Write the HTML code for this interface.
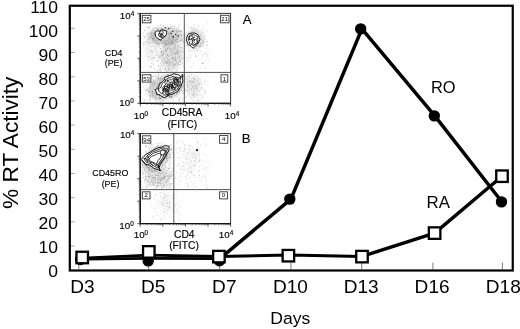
<!DOCTYPE html><html><head><meta charset="utf-8"><title>RT Activity</title>
<style>html,body{margin:0;padding:0;background:#fff}svg{display:block;will-change:transform;transform:translateZ(0)}text{font-family:"Liberation Sans",Arial,Helvetica,sans-serif;fill:#000}</style></head><body>
<svg width="520" height="329" viewBox="0 0 520 329">
<defs><filter id="bl" x="-30%" y="-30%" width="160%" height="160%"><feGaussianBlur stdDeviation="1.8"/></filter><filter id="b0" x="-10%" y="-10%" width="120%" height="120%"><feGaussianBlur stdDeviation="0.35"/></filter><clipPath id="cA"><rect x="141" y="14" width="89.5" height="88.5"/></clipPath><clipPath id="cB"><rect x="141" y="134.5" width="89.5" height="88"/></clipPath></defs>
<rect width="520" height="329" fill="#fff"/>
<g id="insetA">
<g clip-path="url(#cA)"><g filter="url(#bl)">
<ellipse cx="166" cy="36" rx="17" ry="9.5" fill="#000" opacity="0.15" transform="rotate(0 166 36)"/>
<ellipse cx="171" cy="56" rx="11" ry="15" fill="#000" opacity="0.11" transform="rotate(0 171 56)"/>
<ellipse cx="152" cy="46" rx="8" ry="16" fill="#000" opacity="0.05" transform="rotate(0 152 46)"/>
<ellipse cx="195" cy="39" rx="10" ry="10" fill="#000" opacity="0.12" transform="rotate(0 195 39)"/>
<ellipse cx="166" cy="87" rx="19" ry="12" fill="#000" opacity="0.17" transform="rotate(-20 166 87)"/>
<ellipse cx="193" cy="87" rx="7" ry="12" fill="#000" opacity="0.07" transform="rotate(0 193 87)"/>
</g></g>
<path d="M162.2 40.1h0.7M162.5 35.1h0.7M154.8 35.7h0.7M177.2 39.5h0.7M176.4 38.5h0.7M169.3 38.1h0.7M146.7 42.1h0.7M170.6 40.0h0.7M146.4 26.5h0.7M155.2 34.2h0.7M168.4 36.7h0.7M170.7 33.1h0.7M168.4 39.4h0.7M157.7 47.3h0.7M171.1 44.2h0.7M158.2 32.6h0.7M161.2 36.4h0.7M172.0 38.5h0.7M160.1 31.3h0.7M159.3 44.3h0.7M156.1 38.5h0.7M169.7 28.1h0.7M165.5 44.8h0.7M142.8 35.1h0.7M163.8 32.1h0.7M170.5 36.6h0.7M148.9 42.0h0.7M172.4 42.7h0.7M180.8 39.2h0.7M166.3 29.2h0.7M171.8 33.3h0.7M160.0 29.4h0.7M154.4 33.8h0.7M179.2 24.8h0.7M149.0 38.4h0.7M180.9 40.5h0.7M168.9 32.6h0.7M152.7 42.9h0.7M177.1 37.9h0.7M167.7 39.6h0.7M182.5 40.7h0.7M170.7 40.3h0.7M147.7 44.7h0.7M175.5 40.2h0.7M143.3 33.2h0.7M174.3 26.1h0.7M163.0 43.1h0.7M150.6 46.7h0.7M171.1 36.1h0.7M168.6 40.9h0.7M166.3 43.9h0.7M157.7 34.5h0.7M176.5 37.2h0.7M155.3 42.7h0.7M181.1 34.3h0.7M149.8 36.2h0.7M163.4 35.2h0.7M180.5 30.8h0.7M178.9 29.4h0.7M156.3 40.8h0.7M177.4 42.2h0.7M168.8 37.9h0.7M166.7 40.5h0.7M163.1 38.7h0.7M171.3 37.0h0.7M173.4 40.4h0.7M160.3 34.8h0.7M164.9 42.5h0.7M161.3 39.3h0.7M152.6 38.5h0.7M169.4 38.4h0.7M160.3 40.9h0.7M168.1 33.9h0.7M158.9 36.4h0.7M162.5 36.6h0.7M176.1 30.0h0.7M164.3 42.7h0.7M174.4 45.9h0.7M146.3 34.9h0.7M161.2 40.7h0.7M177.0 28.3h0.7M172.5 28.0h0.7M166.9 44.2h0.7M163.4 38.1h0.7M173.8 37.8h0.7M164.0 46.2h0.7M176.5 35.2h0.7M175.1 35.4h0.7M166.5 41.2h0.7M167.4 40.8h0.7M148.2 27.9h0.7M171.8 31.2h0.7M153.7 28.2h0.7M178.9 41.5h0.7M181.2 31.4h0.7M165.0 30.2h0.7M173.4 46.5h0.7M155.2 46.4h0.7M175.9 35.9h0.7M143.3 45.4h0.7M163.9 33.4h0.7M169.4 39.5h0.7M181.5 30.9h0.7M177.5 45.9h0.7M181.0 35.9h0.7M156.8 43.1h0.7M166.3 37.7h0.7M180.7 35.4h0.7M144.6 41.9h0.7M168.5 33.3h0.7M164.9 42.0h0.7M165.9 45.0h0.7M164.3 43.2h0.7M181.4 46.7h0.7M157.6 42.3h0.7M144.4 30.5h0.7M143.4 43.4h0.7M151.4 36.9h0.7M162.9 36.8h0.7M158.5 38.4h0.7M170.8 43.0h0.7M162.8 29.4h0.7M158.9 43.4h0.7M146.9 33.4h0.7M176.1 41.8h0.7M165.1 41.8h0.7M166.8 29.9h0.7M147.8 33.2h0.7M175.2 33.6h0.7M155.1 32.4h0.7M148.2 36.3h0.7M152.0 39.2h0.7M157.9 25.3h0.7M173.0 35.3h0.7M168.2 34.2h0.7M173.6 41.5h0.7M172.3 39.0h0.7M179.7 41.0h0.7M170.0 24.5h0.7M174.9 44.9h0.7M161.7 34.2h0.7M170.2 51.5h0.7M154.8 41.1h0.7M171.2 42.4h0.7M155.0 36.5h0.7M168.2 42.0h0.7M164.6 35.8h0.7M153.8 34.8h0.7M174.8 37.6h0.7M155.6 32.0h0.7M171.8 39.9h0.7M164.3 40.1h0.7M143.6 43.2h0.7M168.6 32.8h0.7M179.6 47.9h0.7M149.6 33.0h0.7M168.2 38.1h0.7M160.6 31.2h0.7M151.9 28.9h0.7M155.4 38.6h0.7M164.4 40.1h0.7M157.0 36.3h0.7M170.0 39.3h0.7M172.0 38.3h0.7M161.4 41.7h0.7M165.5 32.0h0.7M158.1 37.0h0.7M163.8 37.9h0.7M165.0 38.1h0.7M163.5 29.4h0.7M169.6 43.3h0.7M169.8 35.9h0.7M169.9 31.2h0.7M144.1 37.4h0.7M154.8 41.4h0.7M153.6 46.5h0.7M160.8 28.8h0.7M156.6 40.1h0.7M170.5 38.1h0.7M181.3 41.2h0.7M164.8 40.6h0.7M183.2 42.8h0.7M176.3 30.5h0.7M163.4 41.4h0.7M161.7 43.4h0.7M171.6 42.4h0.7M162.7 52.3h0.7M178.6 35.7h0.7M166.0 52.6h0.7M161.2 42.2h0.7M175.8 37.0h0.7M152.2 38.1h0.7M169.0 43.8h0.7M173.6 37.1h0.7M174.4 40.2h0.7M167.3 37.3h0.7M162.3 41.1h0.7M153.4 33.2h0.7M165.1 28.2h0.7M160.2 24.9h0.7M157.5 40.4h0.7M171.2 36.7h0.7M162.4 28.5h0.7M177.0 31.7h0.7M163.0 26.1h0.7M173.6 42.6h0.7M144.1 36.7h0.7M171.9 26.4h0.7M144.9 30.6h0.7M158.1 28.6h0.7M165.3 38.5h0.7M172.0 41.2h0.7M181.5 44.0h0.7M150.6 34.0h0.7M153.3 30.5h0.7M164.1 37.0h0.7M170.4 27.5h0.7M151.4 36.9h0.7M162.8 35.1h0.7M164.3 32.4h0.7M172.7 39.1h0.7M164.0 33.0h0.7M154.2 37.2h0.7M148.5 38.2h0.7M166.6 28.7h0.7M162.2 35.1h0.7M170.1 40.7h0.7M164.6 31.9h0.7M163.4 36.6h0.7M173.1 38.8h0.7M157.1 28.9h0.7M160.9 32.6h0.7M152.8 36.3h0.7M159.6 37.6h0.7M170.8 34.5h0.7M177.1 37.7h0.7" stroke="#888" stroke-width="0.7" opacity="0.8" fill="none"/>
<path d="M179.8 31.2h0.7M166.7 57.5h0.7M174.3 67.8h0.7M177.4 64.5h0.7M175.6 53.4h0.7M175.6 44.2h0.7M180.3 44.8h0.7M170.4 55.2h0.7M180.1 55.3h0.7M166.3 57.6h0.7M176.1 62.1h0.7M173.9 50.7h0.7M181.9 48.0h0.7M176.7 50.2h0.7M167.1 62.2h0.7M181.3 54.9h0.7M167.3 63.1h0.7M171.7 58.1h0.7M182.7 66.3h0.7M172.0 62.9h0.7M167.5 54.6h0.7M181.6 42.8h0.7M161.5 38.8h0.7M180.2 50.4h0.7M171.6 51.9h0.7M171.2 44.1h0.7M172.2 40.6h0.7M171.5 58.1h0.7M175.3 52.7h0.7M165.7 56.6h0.7M168.6 70.7h0.7M177.4 53.8h0.7M168.7 48.0h0.7M165.4 51.5h0.7M174.1 60.2h0.7M167.1 55.1h0.7M168.3 56.7h0.7M173.1 59.1h0.7M170.3 58.7h0.7M172.4 62.7h0.7M158.8 46.1h0.7M172.0 44.7h0.7M164.7 61.3h0.7M167.5 61.3h0.7M177.2 58.1h0.7M175.6 54.0h0.7M162.1 54.7h0.7M175.2 49.7h0.7M171.3 62.5h0.7M165.9 61.4h0.7M173.0 53.5h0.7M182.8 58.2h0.7M178.3 48.1h0.7M171.9 54.9h0.7M159.6 69.4h0.7M178.3 37.5h0.7M177.2 53.7h0.7M175.1 58.7h0.7M161.5 52.9h0.7M182.4 49.3h0.7M164.8 41.4h0.7M163.5 58.4h0.7M168.4 48.3h0.7M175.7 60.5h0.7M164.9 43.3h0.7M174.0 57.5h0.7M162.9 53.0h0.7M168.2 59.6h0.7M171.2 54.1h0.7M169.5 65.5h0.7M181.7 51.3h0.7M177.9 47.4h0.7M172.5 62.5h0.7M182.6 51.2h0.7M171.5 57.0h0.7M161.5 55.2h0.7M167.3 58.7h0.7M164.1 35.2h0.7M172.3 57.6h0.7M168.2 63.9h0.7M170.1 48.9h0.7M175.3 39.3h0.7M167.3 54.8h0.7M177.9 53.4h0.7M174.2 48.4h0.7M167.5 55.2h0.7M173.2 65.2h0.7M163.3 34.0h0.7M176.2 63.0h0.7M173.4 57.5h0.7M178.5 58.7h0.7M177.7 51.3h0.7M172.0 52.5h0.7M168.5 46.6h0.7M167.6 61.4h0.7M172.3 55.7h0.7M170.8 64.1h0.7M175.5 53.6h0.7M176.7 53.5h0.7M163.9 69.6h0.7M175.3 45.4h0.7M179.6 58.4h0.7M161.0 71.1h0.7M174.3 63.9h0.7M173.4 53.5h0.7M161.2 64.7h0.7M172.2 52.1h0.7M174.5 55.8h0.7M176.7 51.3h0.7M171.7 33.6h0.7M169.0 61.8h0.7M181.4 51.4h0.7M171.2 70.8h0.7M169.7 62.3h0.7M180.6 47.9h0.7M173.5 54.2h0.7M172.8 66.3h0.7M168.0 60.0h0.7M164.6 60.0h0.7M176.0 52.2h0.7M175.7 39.5h0.7M177.3 39.6h0.7M167.1 49.4h0.7M169.2 63.6h0.7M172.6 51.0h0.7M175.8 70.8h0.7M172.0 58.7h0.7M180.7 57.7h0.7M171.7 59.2h0.7M178.8 61.7h0.7M170.1 44.5h0.7M172.7 65.3h0.7M164.4 44.7h0.7M171.8 35.6h0.7M170.2 50.6h0.7M175.2 48.0h0.7M165.8 51.1h0.7M171.7 48.4h0.7M172.1 62.5h0.7M166.5 50.8h0.7M166.9 54.7h0.7M175.7 41.4h0.7M175.2 54.7h0.7M159.2 57.9h0.7M180.4 36.3h0.7M177.7 57.1h0.7M175.3 59.4h0.7M181.1 52.8h0.7M178.1 50.9h0.7M177.1 46.9h0.7M175.1 53.4h0.7M164.0 47.1h0.7M173.4 64.4h0.7M175.0 60.2h0.7M171.7 68.5h0.7M169.3 49.5h0.7M178.2 55.6h0.7M170.1 49.2h0.7M170.2 61.2h0.7M174.5 42.9h0.7M175.0 56.8h0.7M165.0 62.7h0.7M170.0 51.6h0.7M177.6 68.2h0.7M167.2 59.4h0.7M168.5 66.9h0.7M167.5 63.1h0.7M169.0 60.0h0.7M171.3 48.3h0.7M160.5 63.5h0.7M159.9 66.5h0.7M168.0 56.4h0.7M180.8 56.2h0.7M162.3 38.0h0.7M180.3 62.4h0.7M166.3 63.6h0.7M175.5 61.5h0.7M156.2 52.0h0.7M178.3 62.3h0.7M178.2 30.4h0.7M173.2 59.9h0.7M169.7 55.4h0.7M178.2 50.6h0.7M180.0 47.1h0.7M173.9 49.7h0.7M173.1 48.1h0.7M160.8 65.9h0.7M174.1 49.4h0.7M173.4 64.9h0.7M165.2 53.9h0.7M175.8 60.3h0.7M169.7 33.9h0.7" stroke="#999" stroke-width="0.7" opacity="0.8" fill="none"/>
<path d="M202.5 43.3h0.7M195.1 39.1h0.7M196.6 38.0h0.7M188.9 35.8h0.7M191.4 36.7h0.7M188.0 45.5h0.7M187.1 45.6h0.7M188.9 43.5h0.7M203.2 42.4h0.7M190.6 41.3h0.7M195.9 28.9h0.7M191.4 42.1h0.7M192.2 41.6h0.7M199.4 46.4h0.7M200.4 45.1h0.7M193.3 40.9h0.7M193.4 38.8h0.7M193.9 28.9h0.7M193.0 40.8h0.7M189.2 40.8h0.7M198.1 39.8h0.7M207.5 22.8h0.7M193.8 28.2h0.7M200.9 59.6h0.7M198.1 38.9h0.7M198.3 25.3h0.7M200.1 43.6h0.7M195.1 36.9h0.7M198.8 37.6h0.7M196.3 37.4h0.7M196.2 46.3h0.7M189.7 40.8h0.7M198.7 42.0h0.7M202.5 54.9h0.7M189.5 27.6h0.7M200.1 51.7h0.7M200.5 46.7h0.7M191.3 36.0h0.7M200.3 34.6h0.7M210.0 54.5h0.7M190.9 35.9h0.7M196.4 35.8h0.7M202.9 40.5h0.7M188.5 50.2h0.7M191.5 42.5h0.7M194.9 38.8h0.7M196.9 36.2h0.7M187.4 35.7h0.7M194.9 41.4h0.7M198.3 41.8h0.7M190.2 36.0h0.7M197.9 44.7h0.7M194.3 39.8h0.7M200.6 41.1h0.7M199.4 45.1h0.7M196.3 50.1h0.7M191.6 38.5h0.7M190.2 35.4h0.7M204.3 53.3h0.7M195.1 45.0h0.7M202.1 46.7h0.7M202.2 32.2h0.7M191.2 44.2h0.7M203.6 41.7h0.7M189.8 38.5h0.7M191.0 35.0h0.7M204.0 36.6h0.7M195.1 56.1h0.7M202.1 43.4h0.7M191.3 43.9h0.7M204.7 45.4h0.7M202.6 41.7h0.7M198.1 39.6h0.7M197.6 50.1h0.7M186.4 40.6h0.7M196.4 37.0h0.7M193.2 46.5h0.7M207.0 45.4h0.7M197.0 30.1h0.7M206.6 41.5h0.7M194.8 33.2h0.7M194.7 33.3h0.7M195.4 44.3h0.7M195.2 43.0h0.7M189.9 51.0h0.7M191.1 28.3h0.7M193.9 35.7h0.7M188.9 38.5h0.7M196.7 32.7h0.7M194.2 51.0h0.7M199.1 39.9h0.7M195.8 40.2h0.7M194.7 46.1h0.7M194.4 24.2h0.7M194.9 34.8h0.7M198.9 36.7h0.7M195.9 56.2h0.7M188.7 33.1h0.7M186.5 24.2h0.7M191.2 27.9h0.7M186.1 45.3h0.7M190.3 38.4h0.7M197.0 50.5h0.7M206.6 48.2h0.7" stroke="#999" stroke-width="0.7" opacity="0.8" fill="none"/>
<path d="M170.1 86.5h0.7M191.8 86.8h0.7M165.8 90.4h0.7M171.3 85.0h0.7M158.9 79.8h0.7M157.9 78.5h0.7M183.0 83.7h0.7M158.5 100.6h0.7M190.6 82.6h0.7M175.0 86.2h0.7M170.7 86.2h0.7M150.5 82.8h0.7M160.2 84.7h0.7M172.8 86.0h0.7M166.5 81.5h0.7M165.7 94.2h0.7M176.7 83.1h0.7M168.7 97.5h0.7M163.2 93.0h0.7M180.0 78.9h0.7M174.1 74.9h0.7M179.7 82.6h0.7M152.3 97.7h0.7M161.6 98.4h0.7M160.0 88.1h0.7M170.2 82.5h0.7M169.4 81.2h0.7M175.4 82.9h0.7M180.9 80.8h0.7M148.6 94.9h0.7M176.1 90.7h0.7M160.3 101.0h0.7M172.8 102.2h0.7M168.2 91.1h0.7M160.9 80.5h0.7M182.6 86.7h0.7M187.3 84.3h0.7M157.1 78.0h0.7M159.0 84.7h0.7M160.6 93.6h0.7M170.9 82.7h0.7M169.5 84.3h0.7M172.4 89.9h0.7M176.7 77.1h0.7M155.2 102.2h0.7M172.3 92.6h0.7M148.9 91.6h0.7M164.4 76.6h0.7M164.3 93.1h0.7M184.3 91.2h0.7M154.6 81.0h0.7M176.3 89.6h0.7M166.6 76.7h0.7M178.8 87.5h0.7M172.8 80.3h0.7M173.5 89.7h0.7M156.8 76.7h0.7M172.9 87.6h0.7M170.6 91.7h0.7M161.3 88.2h0.7M166.2 91.1h0.7M185.0 76.9h0.7M194.9 86.3h0.7M178.3 86.1h0.7M187.1 76.6h0.7M163.9 79.7h0.7M176.9 92.5h0.7M175.0 86.2h0.7M166.2 88.0h0.7M155.1 99.4h0.7M160.5 80.8h0.7M157.4 84.2h0.7M180.3 88.8h0.7M155.5 98.3h0.7M176.2 78.1h0.7M149.5 88.1h0.7M161.9 91.2h0.7M158.5 74.6h0.7M166.4 75.0h0.7M174.7 74.0h0.7M158.0 83.7h0.7M165.5 96.9h0.7M179.1 85.9h0.7M167.3 74.5h0.7M160.7 84.9h0.7M158.6 93.9h0.7M157.9 84.9h0.7M150.8 77.6h0.7M178.2 91.8h0.7M167.3 78.9h0.7M182.3 82.2h0.7M182.3 91.2h0.7M179.3 77.9h0.7M181.7 86.1h0.7M149.9 90.6h0.7M152.0 91.9h0.7M171.5 76.4h0.7M176.2 93.7h0.7M156.3 99.0h0.7M196.4 89.2h0.7M166.4 88.7h0.7M169.0 93.2h0.7M179.7 81.7h0.7M155.0 97.1h0.7M164.5 92.3h0.7M175.3 95.2h0.7M179.3 77.8h0.7M176.7 95.7h0.7M163.2 91.3h0.7M184.6 88.5h0.7M170.1 75.1h0.7M154.7 93.5h0.7M179.2 100.6h0.7M161.6 97.4h0.7M159.4 90.9h0.7M162.1 87.3h0.7M171.0 78.6h0.7M171.4 79.7h0.7M163.4 92.0h0.7M162.4 90.5h0.7M185.8 78.7h0.7M168.4 91.4h0.7M166.9 94.7h0.7M155.5 96.0h0.7M160.2 83.2h0.7M189.2 82.0h0.7M185.2 89.8h0.7M166.4 85.7h0.7M195.6 75.7h0.7M161.6 83.9h0.7M173.8 86.0h0.7M174.7 96.3h0.7M165.7 90.6h0.7M184.5 93.0h0.7M150.0 85.3h0.7M151.5 78.9h0.7M177.5 93.0h0.7M149.3 91.5h0.7M148.9 100.0h0.7M159.1 87.7h0.7M170.1 89.3h0.7M164.2 87.7h0.7M162.3 89.3h0.7M155.2 91.9h0.7M145.3 91.9h0.7M189.4 77.6h0.7M154.8 93.5h0.7M152.8 79.9h0.7M161.9 94.2h0.7M172.0 83.6h0.7M154.8 83.4h0.7M183.6 81.3h0.7M151.7 76.8h0.7M155.1 90.9h0.7M169.9 84.0h0.7M161.2 78.4h0.7M161.0 101.8h0.7M161.9 95.0h0.7M148.5 92.1h0.7M173.7 91.5h0.7M157.2 95.1h0.7M170.3 79.4h0.7M170.8 78.0h0.7M159.2 89.6h0.7M153.0 81.2h0.7M165.4 92.9h0.7M167.0 96.1h0.7M151.6 83.0h0.7M186.2 81.3h0.7M176.2 76.3h0.7M177.6 83.9h0.7M175.2 83.1h0.7M179.6 76.2h0.7M153.3 81.0h0.7M178.8 75.8h0.7M153.9 84.8h0.7M159.6 79.9h0.7M163.1 83.3h0.7M159.3 82.4h0.7M167.2 82.9h0.7M169.9 87.1h0.7M159.9 83.4h0.7M159.3 87.4h0.7M167.0 94.0h0.7M165.7 94.3h0.7M146.9 81.2h0.7M182.7 83.1h0.7M173.7 84.5h0.7M170.0 75.9h0.7M177.0 78.1h0.7M179.1 82.0h0.7M142.7 86.9h0.7M180.1 79.8h0.7M164.3 89.4h0.7M161.8 84.5h0.7M169.5 86.5h0.7M184.9 79.2h0.7M193.7 88.8h0.7M189.9 84.8h0.7M169.8 86.3h0.7M164.4 82.0h0.7M165.5 82.2h0.7M187.6 81.8h0.7M157.8 75.7h0.7M166.3 83.6h0.7M152.9 83.7h0.7M144.7 100.2h0.7M167.3 85.2h0.7M184.3 80.1h0.7M168.8 82.8h0.7M165.4 98.5h0.7M183.7 92.4h0.7M164.2 87.8h0.7M160.9 96.4h0.7M154.1 96.1h0.7M184.0 90.0h0.7M160.6 97.4h0.7M158.0 84.5h0.7M156.5 99.6h0.7M184.6 74.5h0.7M158.7 87.4h0.7M198.5 80.8h0.7M157.1 77.0h0.7M163.8 96.8h0.7M187.9 75.6h0.7M159.0 85.9h0.7M149.6 100.7h0.7M158.9 97.9h0.7M145.7 85.8h0.7M169.1 79.7h0.7M176.7 82.4h0.7M156.7 95.5h0.7M189.5 80.7h0.7M159.1 87.1h0.7M152.7 77.0h0.7M166.3 89.4h0.7M147.8 90.1h0.7M178.0 93.8h0.7M174.5 80.9h0.7M152.4 85.5h0.7M161.1 90.1h0.7M172.0 97.0h0.7M168.3 77.7h0.7M187.7 84.9h0.7M167.2 80.9h0.7M144.5 88.2h0.7M175.9 76.6h0.7M153.9 93.4h0.7M172.3 88.8h0.7M179.1 92.0h0.7M161.4 96.2h0.7M159.0 95.1h0.7M170.6 86.7h0.7M178.6 81.4h0.7M182.7 86.4h0.7M168.0 81.7h0.7M158.2 86.1h0.7M165.7 86.8h0.7M202.7 76.2h0.7M174.2 76.9h0.7M159.3 87.3h0.7M167.3 78.4h0.7M184.3 74.8h0.7M168.7 87.8h0.7M171.8 89.0h0.7M171.5 85.7h0.7M145.1 90.2h0.7M143.8 101.0h0.7M170.9 83.3h0.7M157.3 86.1h0.7M193.1 88.5h0.7M170.9 94.6h0.7M145.2 80.9h0.7M160.3 82.6h0.7M162.3 89.8h0.7M169.3 87.5h0.7M170.2 92.2h0.7M169.1 83.5h0.7M167.8 74.5h0.7M142.3 79.3h0.7M174.3 84.8h0.7M161.8 82.9h0.7M149.9 86.7h0.7M177.2 86.2h0.7M169.2 89.4h0.7M161.5 89.3h0.7M170.0 89.4h0.7M166.8 85.4h0.7M164.8 82.5h0.7M194.1 78.9h0.7M179.0 98.8h0.7M178.0 88.2h0.7M192.4 85.7h0.7M173.3 74.8h0.7M159.1 91.8h0.7M170.8 77.1h0.7M162.7 85.2h0.7M169.6 87.9h0.7M161.5 79.4h0.7M186.1 90.5h0.7M169.6 93.1h0.7M174.7 88.2h0.7M171.2 78.8h0.7M177.1 89.8h0.7M196.1 88.0h0.7" stroke="#888" stroke-width="0.7" opacity="0.8" fill="none"/>
<path d="M205.9 92.9h0.7M192.0 82.2h0.7M189.1 87.9h0.7M193.8 92.4h0.7M207.7 86.8h0.7M198.1 90.8h0.7M195.6 85.3h0.7M193.3 80.4h0.7M195.1 86.8h0.7M195.9 80.2h0.7M194.2 87.4h0.7M197.6 78.5h0.7M196.5 94.9h0.7M197.6 84.1h0.7M191.1 85.1h0.7M198.4 99.4h0.7M193.1 81.9h0.7M196.3 88.6h0.7M188.6 81.1h0.7M193.4 92.4h0.7M186.8 78.9h0.7M197.0 77.2h0.7M194.7 89.8h0.7M193.3 78.9h0.7M193.6 84.3h0.7M196.0 80.3h0.7M200.5 73.6h0.7M192.9 87.1h0.7M199.8 82.1h0.7M197.3 82.5h0.7M198.4 100.9h0.7M191.6 90.5h0.7M188.4 94.8h0.7M201.3 87.3h0.7M187.2 90.2h0.7M200.9 95.7h0.7M189.9 98.4h0.7M186.6 96.1h0.7M205.3 93.1h0.7M200.7 84.3h0.7M186.6 86.2h0.7M192.8 86.6h0.7M198.2 85.8h0.7M195.2 90.4h0.7M194.0 101.7h0.7M196.7 87.7h0.7M192.8 82.0h0.7M202.1 88.2h0.7M187.5 82.5h0.7M193.2 83.4h0.7M200.5 77.7h0.7M197.0 88.1h0.7M186.9 87.4h0.7M193.4 91.0h0.7M191.3 89.4h0.7M198.7 95.3h0.7M193.9 82.2h0.7M189.2 92.4h0.7M197.9 78.7h0.7M194.9 79.8h0.7M194.3 94.2h0.7M200.8 90.2h0.7M207.5 82.1h0.7M194.0 95.4h0.7M190.2 81.4h0.7M191.8 86.4h0.7M187.5 90.9h0.7M197.3 87.6h0.7M204.2 84.4h0.7M201.8 82.6h0.7M195.2 85.6h0.7M191.0 82.1h0.7M191.9 81.2h0.7M190.7 82.8h0.7M187.7 85.9h0.7M198.7 85.0h0.7M191.0 97.9h0.7M199.9 94.4h0.7M200.9 84.4h0.7M193.2 95.9h0.7" stroke="#aaa" stroke-width="0.7" opacity="0.8" fill="none"/>
<path d="M166.2 32.7h0.8M151.5 31.9h0.8M157.6 44.3h0.8M157.4 37.0h0.8M150.2 50.6h0.8M177.2 53.4h0.8M167.5 55.3h0.8M154.2 58.0h0.8M163.6 50.7h0.8M169.1 47.1h0.8M158.2 36.9h0.8M155.0 49.1h0.8M160.8 52.4h0.8M147.4 41.9h0.8M178.0 36.7h0.8M167.0 48.1h0.8M157.3 70.4h0.8M157.6 60.7h0.8M152.7 29.0h0.8M178.4 45.8h0.8M149.2 43.5h0.8M162.8 59.1h0.8M150.9 36.1h0.8M181.5 59.2h0.8M152.6 41.2h0.8M159.7 56.4h0.8M169.2 64.2h0.8M176.6 49.3h0.8M173.6 59.4h0.8M174.3 47.4h0.8M175.3 57.9h0.8M179.9 31.7h0.8M178.3 26.2h0.8M174.6 52.4h0.8M164.9 69.3h0.8M167.6 44.8h0.8M175.2 65.3h0.8M168.9 43.1h0.8M163.3 46.6h0.8M173.0 39.2h0.8M161.1 51.0h0.8M160.8 40.5h0.8M175.3 64.2h0.8M165.0 46.0h0.8M153.6 39.7h0.8M152.2 51.9h0.8M167.9 30.0h0.8M180.1 40.6h0.8M177.4 63.7h0.8M181.5 35.2h0.8M162.4 67.0h0.8M147.4 28.1h0.8M167.3 48.4h0.8M180.1 60.8h0.8M166.4 70.9h0.8M165.6 49.3h0.8M171.7 43.5h0.8M159.9 52.8h0.8M159.6 68.7h0.8M171.4 49.6h0.8M150.6 42.8h0.8M161.4 51.3h0.8M167.7 65.6h0.8M181.7 47.9h0.8M162.8 54.1h0.8M182.9 41.4h0.8M166.1 62.7h0.8M153.1 40.3h0.8M182.2 63.2h0.8M165.5 31.0h0.8M179.2 57.0h0.8M176.5 70.6h0.8M179.0 44.9h0.8M152.6 39.0h0.8M165.4 48.7h0.8M153.8 34.2h0.8M169.7 53.1h0.8M159.7 70.7h0.8M169.9 27.9h0.8M161.8 61.4h0.8M158.0 57.1h0.8M147.1 39.7h0.8M177.3 52.4h0.8M171.1 34.8h0.8M164.9 50.9h0.8M156.6 55.1h0.8M166.1 70.9h0.8M167.7 44.5h0.8M151.4 33.1h0.8M174.3 30.8h0.8M150.6 33.7h0.8M165.8 63.0h0.8M169.1 62.3h0.8M149.2 26.6h0.8M174.7 40.5h0.8M172.8 41.9h0.8M153.1 38.0h0.8M150.6 66.7h0.8M168.0 41.7h0.8M163.2 43.4h0.8M149.0 66.1h0.8M168.0 69.2h0.8M162.8 53.9h0.8M156.0 28.0h0.8M180.5 64.5h0.8M158.3 66.4h0.8M176.4 39.7h0.8M168.7 69.2h0.8M164.8 68.7h0.8M155.7 43.5h0.8M172.9 36.0h0.8M158.1 65.4h0.8M164.4 61.7h0.8M155.8 33.8h0.8M159.9 34.4h0.8M182.0 39.1h0.8M167.2 31.2h0.8M166.2 43.4h0.8M161.5 28.9h0.8M151.4 63.2h0.8M159.6 37.0h0.8M153.9 38.8h0.8M155.5 27.6h0.8M170.9 41.4h0.8M152.6 57.8h0.8M150.3 38.1h0.8M177.1 31.8h0.8M163.0 63.6h0.8M176.0 33.2h0.8M159.7 58.5h0.8M160.6 69.1h0.8M154.5 68.8h0.8M165.2 36.2h0.8M163.3 31.9h0.8M172.4 37.7h0.8M179.4 52.4h0.8M160.2 37.1h0.8M168.9 35.6h0.8M178.4 31.5h0.8M165.5 50.4h0.8M156.7 60.7h0.8M160.9 55.6h0.8M167.4 40.0h0.8M161.0 29.9h0.8M153.4 64.3h0.8M158.6 55.8h0.8M150.9 51.3h0.8M160.0 48.5h0.8M157.7 29.0h0.8M158.2 36.2h0.8M151.5 58.3h0.8M157.2 44.2h0.8M179.7 60.9h0.8M178.8 64.8h0.8M151.8 38.4h0.8M148.1 56.6h0.8M170.9 41.8h0.8M161.9 55.7h0.8M172.2 37.2h0.8M177.5 41.8h0.8M169.6 34.2h0.8M151.1 67.1h0.8M173.4 58.1h0.8M148.5 27.8h0.8M152.8 34.9h0.8M157.9 43.1h0.8M148.4 40.0h0.8M170.0 34.1h0.8M177.2 51.7h0.8M172.8 37.5h0.8" stroke="#777" stroke-width="0.8" opacity="0.7" fill="none"/>
<path d="M195.6 56.8h0.8M193.7 26.0h0.8M204.4 60.9h0.8M192.3 27.9h0.8M204.8 53.3h0.8M187.0 37.0h0.8M188.4 61.6h0.8M190.6 67.2h0.8M202.5 29.9h0.8M201.3 43.7h0.8M202.4 63.3h0.8M192.2 30.0h0.8M206.8 45.1h0.8M206.5 57.1h0.8M202.2 63.3h0.8M199.8 46.4h0.8M187.2 57.4h0.8M195.4 49.0h0.8M206.4 31.7h0.8M202.8 28.0h0.8M201.5 62.3h0.8M191.7 50.6h0.8M207.3 54.7h0.8M198.0 37.2h0.8M187.3 42.1h0.8M195.1 35.1h0.8M192.8 32.1h0.8M201.6 56.2h0.8M191.2 36.9h0.8M197.3 46.0h0.8M206.6 41.8h0.8M192.6 65.8h0.8M189.1 51.3h0.8M193.3 62.7h0.8M198.1 60.2h0.8M189.7 56.0h0.8M199.2 46.8h0.8M202.9 63.4h0.8M188.5 39.0h0.8M193.9 35.3h0.8M187.3 38.6h0.8M190.3 57.6h0.8M195.9 31.1h0.8M193.1 47.1h0.8M194.0 33.6h0.8M187.6 26.5h0.8M207.8 59.8h0.8M187.8 58.3h0.8M207.6 51.4h0.8M188.4 48.0h0.8M195.6 34.5h0.8M197.9 26.4h0.8M206.2 55.0h0.8M199.8 68.1h0.8M200.4 37.3h0.8M191.4 32.2h0.8M186.6 60.8h0.8M204.5 39.3h0.8M190.1 54.7h0.8M204.6 67.7h0.8" stroke="#888" stroke-width="0.8" opacity="0.6" fill="none"/>
<path d="M152.2 95.2h0.8M176.7 94.0h0.8M158.1 79.0h0.8M176.5 82.6h0.8M159.6 88.9h0.8M159.7 96.4h0.8M154.9 75.1h0.8M167.0 91.0h0.8M176.3 93.1h0.8M179.5 99.5h0.8M164.3 87.5h0.8M151.8 82.1h0.8M167.5 76.2h0.8M171.5 78.4h0.8M162.4 100.2h0.8M149.3 75.1h0.8M162.3 79.2h0.8M172.7 74.1h0.8M177.1 97.1h0.8M175.1 85.5h0.8M156.5 91.9h0.8M165.0 85.4h0.8M158.5 85.8h0.8M170.6 96.3h0.8M179.4 78.4h0.8M156.9 86.0h0.8M166.8 83.4h0.8M153.2 76.3h0.8M158.0 86.4h0.8M181.9 98.5h0.8M178.0 100.3h0.8M181.6 90.7h0.8M176.0 75.6h0.8M171.0 90.4h0.8M157.0 89.4h0.8M181.3 87.0h0.8M170.0 82.1h0.8M158.7 97.9h0.8M147.0 79.1h0.8M171.1 86.1h0.8M149.2 91.8h0.8M159.8 89.7h0.8M161.4 88.3h0.8M166.9 84.7h0.8M150.2 78.9h0.8M178.9 88.8h0.8M150.2 97.3h0.8M155.4 76.6h0.8M165.6 80.8h0.8M164.1 89.0h0.8M154.4 89.5h0.8M150.2 87.9h0.8M167.8 76.2h0.8M161.1 76.0h0.8M162.3 97.3h0.8M166.4 93.3h0.8M174.0 77.1h0.8M182.7 93.5h0.8M149.8 96.4h0.8M160.5 78.6h0.8M181.5 89.2h0.8M174.7 77.7h0.8M174.7 75.6h0.8M154.8 84.1h0.8M146.6 90.0h0.8M153.9 82.1h0.8M172.2 85.5h0.8M178.9 90.8h0.8M178.3 89.2h0.8M179.9 97.5h0.8M152.2 94.1h0.8M158.6 94.6h0.8M171.2 96.3h0.8M150.5 84.1h0.8M173.3 99.6h0.8M172.7 75.2h0.8M168.3 76.7h0.8M166.3 95.7h0.8M150.2 99.0h0.8M171.0 80.9h0.8M153.1 86.1h0.8M177.0 89.7h0.8M150.2 74.6h0.8M150.1 95.6h0.8M152.9 89.0h0.8M156.7 92.6h0.8M160.1 77.9h0.8M178.4 88.5h0.8M171.5 95.8h0.8M181.1 74.4h0.8M158.7 78.1h0.8M164.6 97.6h0.8M175.6 75.0h0.8M152.7 96.1h0.8M171.1 84.6h0.8M163.6 78.3h0.8M177.3 84.6h0.8M178.3 90.5h0.8M148.8 82.9h0.8M154.0 98.1h0.8M167.8 75.2h0.8M152.3 83.7h0.8M163.3 89.6h0.8M160.4 83.5h0.8M146.2 89.6h0.8M158.3 74.6h0.8M163.0 100.6h0.8M147.7 77.9h0.8M170.8 81.4h0.8M156.1 87.5h0.8" stroke="#777" stroke-width="0.8" opacity="0.7" fill="none"/>
<path d="M191.2 89.4h0.8M196.6 99.8h0.8M205.8 74.9h0.8M197.2 94.8h0.8M203.4 94.9h0.8M198.7 91.1h0.8M193.3 81.6h0.8M201.9 97.6h0.8M204.8 92.4h0.8M192.1 94.6h0.8M200.8 87.7h0.8M198.7 83.5h0.8M197.0 85.0h0.8M187.2 83.1h0.8M192.5 100.7h0.8M195.6 83.9h0.8M190.9 80.3h0.8M193.0 77.7h0.8M186.1 97.5h0.8M195.1 86.0h0.8M197.4 82.2h0.8M189.4 75.8h0.8M192.0 82.3h0.8M200.5 88.9h0.8M204.7 83.2h0.8M204.4 89.8h0.8M187.6 78.8h0.8M197.6 100.7h0.8M193.1 94.9h0.8M194.6 97.4h0.8M187.4 87.1h0.8M204.0 81.4h0.8M191.2 74.6h0.8M189.3 81.2h0.8M200.1 79.9h0.8M194.0 79.4h0.8M198.1 97.3h0.8M199.0 79.3h0.8M200.7 100.0h0.8M198.0 76.1h0.8M202.2 97.6h0.8M192.8 77.7h0.8M189.8 88.5h0.8M203.5 91.3h0.8M204.5 79.7h0.8M192.5 94.2h0.8M199.0 84.9h0.8M199.6 83.1h0.8M187.1 85.2h0.8M186.9 90.9h0.8" stroke="#888" stroke-width="0.8" opacity="0.6" fill="none"/>
<rect x="140.3" y="13.4" width="90.29999999999998" height="89.89999999999999" fill="none" stroke="#333" stroke-width="1"/>
<path d="M140.3 13.4V103.3H230.6" stroke="#111" stroke-width="1.3" fill="none"/>
<path d="M184.3 13.4V103.3M140.3 72.4H230.6" stroke="#333" stroke-width="0.85" fill="none"/>
<path d="M140.3 13.4h-3M140.3 103.3v3M140.3 35.9h-3M162.9 103.3v3M140.3 58.3h-3M185.4 103.3v3M140.3 80.8h-3M208.0 103.3v3M140.3 103.3h-3M230.6 103.3v3" stroke="#333" stroke-width="0.8" fill="none"/>
<path d="M140.3 96.6h-1.6M147.1 103.3v1.6M140.3 92.5h-1.6M151.1 103.3v1.6M140.3 89.8h-1.6M153.8 103.3v1.6M140.3 87.6h-1.6M156.1 103.3v1.6M140.3 85.8h-1.6M157.9 103.3v1.6M140.3 84.2h-1.6M159.5 103.3v1.6M140.3 83.1h-1.6M160.6 103.3v1.6M140.3 81.9h-1.6M161.7 103.3v1.6M140.3 74.1h-1.6M169.6 103.3v1.6M140.3 70.0h-1.6M173.7 103.3v1.6M140.3 67.3h-1.6M176.4 103.3v1.6M140.3 65.1h-1.6M178.7 103.3v1.6M140.3 63.3h-1.6M180.5 103.3v1.6M140.3 61.7h-1.6M182.1 103.3v1.6M140.3 60.6h-1.6M183.2 103.3v1.6M140.3 59.5h-1.6M184.3 103.3v1.6M140.3 51.6h-1.6M192.2 103.3v1.6M140.3 47.6h-1.6M196.3 103.3v1.6M140.3 44.9h-1.6M199.0 103.3v1.6M140.3 42.6h-1.6M201.3 103.3v1.6M140.3 40.8h-1.6M203.1 103.3v1.6M140.3 39.2h-1.6M204.6 103.3v1.6M140.3 38.1h-1.6M205.8 103.3v1.6M140.3 37.0h-1.6M206.9 103.3v1.6M140.3 29.1h-1.6M214.8 103.3v1.6M140.3 25.1h-1.6M218.9 103.3v1.6M140.3 22.4h-1.6M221.6 103.3v1.6M140.3 20.1h-1.6M223.8 103.3v1.6M140.3 18.3h-1.6M225.6 103.3v1.6M140.3 16.8h-1.6M227.2 103.3v1.6M140.3 15.6h-1.6M228.3 103.3v1.6M140.3 14.5h-1.6M229.5 103.3v1.6" stroke="#444" stroke-width="0.6" fill="none"/>
<path d="M155.1 32.2L156.4 31.2L157.1 30.6L158.3 31.2L159.2 31.1L160.8 30.6L161.9 29.6L163.4 30.2L165.0 30.5L166.3 31.1L166.6 32.5L166.6 34.2L165.5 36.0L164.0 36.7L162.9 37.7L161.5 38.8L160.3 40.3L159.0 39.2L157.9 38.7L156.6 37.2L155.6 36.2L155.1 33.9Z" fill="#fff" stroke="#111" stroke-width="1.0" stroke-linejoin="round"/>
<path d="M160.1 36.4L160.3 35.1L161.8 34.8L163.2 35.2L163.3 36.5L162.4 37.3L161.1 37.8ZM160.9 33.0L162.1 34.1L161.8 36.6L159.2 36.5L158.4 34.1ZM162.7 33.9L161.0 34.9L159.2 33.7L159.5 31.8L161.5 30.7L163.3 31.8Z" fill="none" stroke="#111" stroke-width="0.8" stroke-linejoin="round"/>
<path d="M168 28.5h1.2M172.1 31.4h1.3M172.7 36.6h1.3M175 34.5h1.2M177.5 35.7h1.2M164.8 27.6h1M170.6 33.2h1" stroke="#222" stroke-width="1.2"/>
<path d="M187.3 36.2L188.2 34.4L190.1 33.4L192.3 33.0L194.6 33.1L196.5 33.9L198.5 35.2L199.2 37.6L200.0 39.3L199.1 41.2L198.2 43.1L196.8 44.7L195.0 46.5L194.2 47.5L193.1 48.3L192.3 47.3L191.6 46.8L190.0 45.3L188.3 44.7L187.4 42.7L186.6 40.7L186.6 38.5Z" fill="#fff" stroke="#111" stroke-width="1.0" stroke-linejoin="round"/>
<path d="M189.0 37.0L189.8 35.6L190.5 35.0L192.6 34.9L194.2 34.8L195.6 35.7L197.5 36.3L197.7 37.9L197.9 39.3L198.0 40.6L197.5 42.5L196.3 43.3L194.4 44.7L194.3 45.3L193.1 45.9L192.9 45.2L192.5 44.7L190.6 44.0L189.5 43.5L189.3 41.7L188.4 40.3L188.8 38.8Z" fill="none" stroke="#111" stroke-width="0.8" stroke-linejoin="round"/>
<circle cx="190.9" cy="37.8" r="2.1" fill="none" stroke="#111" stroke-width="0.8"/>
<circle cx="194.8" cy="41.9" r="2.6" fill="none" stroke="#111" stroke-width="0.8"/>
<path d="M191.2 44.0h0.9M191.1 38.9h0.9M192.5 40.6h0.9M196.4 38.5h0.9M194.0 40.4h0.9M189.4 36.8h0.9M192.4 41.9h0.9M193.9 42.1h0.9M193.1 39.0h0.9M194.2 37.1h0.9M189.1 39.4h0.9M188.9 38.8h0.9M190.8 38.6h0.9M192.9 37.8h0.9M191.8 34.7h0.9M193.4 37.5h0.9" stroke="#111" stroke-width="0.9" opacity="1" fill="none"/>
<path d="M155.1 89.7L156.6 88.9L158.3 87.7L159.0 85.9L160.3 83.1L162.6 81.6L164.3 79.9L164.4 78.2L164.7 77.3L166.9 76.6L169.3 75.5L171.7 75.0L173.6 73.7L176.4 74.4L178.7 75.0L180.1 76.2L181.3 77.2L181.9 76.2L182.8 74.4L182.2 77.6L182.9 80.9L181.8 83.7L180.8 86.7L179.2 88.9L178.0 91.2L175.4 92.6L173.0 94.1L170.2 94.3L167.8 95.9L166.1 96.7L164.2 97.6L162.5 96.7L160.3 95.2L159.1 95.0L156.8 93.9L156.1 91.4Z" fill="#fff" stroke="#111" stroke-width="1.0" stroke-linejoin="round"/>
<path d="M158.4 88.6L160.0 87.9L161.0 87.5L161.3 85.8L162.2 83.9L163.7 82.1L165.5 81.6L165.4 79.7L166.2 79.4L168.0 78.3L170.3 77.4L172.0 77.0L173.0 76.1L175.1 77.2L176.8 77.2L178.5 77.8L179.6 78.4L179.4 77.6L180.6 77.0L180.2 79.7L180.3 81.9L180.1 84.7L178.7 86.8L177.9 88.8L177.0 89.8L175.2 90.7L172.5 92.6L170.1 93.0L167.8 93.9L167.3 94.7L166.1 95.3L164.4 94.7L162.9 93.6L161.8 93.5L160.0 92.5L158.8 90.9Z" fill="none" stroke="#111" stroke-width="0.8" stroke-linejoin="round"/>
<path d="M162.2 88.2L162.9 87.4L163.7 86.3L165.4 84.9L165.7 83.9L166.5 82.9L167.2 82.3L167.2 80.8L167.3 80.0L169.1 80.4L170.4 79.1L171.6 79.7L172.7 78.7L174.4 79.0L175.7 79.2L176.8 79.8L178.1 80.4L177.5 79.1L178.8 78.9L177.9 81.3L178.4 82.9L178.2 84.0L177.1 86.4L176.0 87.5L175.1 88.6L174.3 89.7L173.0 90.0L170.7 90.1L169.6 91.0L168.0 92.2L167.5 92.6L166.2 91.4L164.9 90.8L164.2 90.4L163.4 90.4L163.5 88.4Z" fill="none" stroke="#111" stroke-width="0.8" stroke-linejoin="round"/>
<path d="M167.4 89.3L166.8 90.2L165.9 90.1L165.2 89.8L165.2 88.6L166.1 88.3L166.8 88.3ZM176.0 77.5L177.0 79.6L177.1 81.9L174.8 82.6L173.5 80.6L174.3 78.4ZM176.8 84.0L174.6 84.7L174.0 82.4L174.4 79.9L176.3 79.4L177.3 81.5ZM162.7 90.9L163.2 88.8L164.7 88.3L166.3 90.2L164.5 91.9ZM175.7 87.3L172.9 87.5L172.0 84.9L173.3 82.7L176.2 84.4ZM167.7 95.2L165.9 94.1L165.5 92.6L167.0 91.5L168.5 91.4L168.9 93.4ZM169.3 85.0L170.0 86.0L170.0 87.3L169.0 88.0L167.8 87.9L167.4 86.4L168.2 85.0ZM170.7 88.1L169.1 86.6L169.7 83.9L172.2 85.0L173.5 87.0ZM164.3 87.9L166.0 86.0L168.2 86.7L169.6 88.3L168.6 90.5L166.4 90.8L165.2 89.4Z" fill="none" stroke="#111" stroke-width="0.8" stroke-linejoin="round"/>
<path d="M167.7 76.8h0.9M166.5 89.3h0.9M156.4 94.2h0.9M171.2 85.4h0.9M162.7 91.9h0.9M169.6 82.5h0.9M174.5 82.5h0.9M169.8 84.3h0.9M173.7 83.6h0.9M177.6 82.2h0.9M166.7 87.4h0.9M174.9 81.0h0.9M173.5 85.3h0.9M165.3 80.3h0.9M171.6 85.5h0.9M169.9 83.1h0.9M176.9 80.4h0.9M165.8 86.1h0.9M170.5 81.3h0.9M168.6 94.5h0.9M179.6 83.0h0.9M179.1 81.6h0.9M163.4 95.1h0.9M178.2 81.9h0.9M162.0 96.3h0.9M177.1 78.9h0.9M172.6 87.0h0.9M172.0 88.6h0.9M172.2 86.9h0.9M168.3 81.4h0.9M170.7 97.4h0.9M174.4 87.7h0.9M179.9 85.3h0.9M172.5 81.8h0.9M167.1 80.6h0.9M171.1 88.5h0.9M158.9 94.5h0.9M177.4 85.6h0.9M164.2 87.5h0.9M158.3 90.3h0.9M177.2 88.6h0.9M166.7 93.5h0.9M172.0 82.6h0.9M170.5 86.3h0.9M183.3 76.9h0.9M178.4 85.1h0.9M174.0 84.4h0.9M168.7 85.2h0.9M167.2 95.3h0.9M164.3 82.0h0.9M171.9 84.4h0.9M174.8 89.4h0.9M169.4 85.2h0.9M166.3 88.4h0.9M168.4 87.8h0.9M169.2 93.8h0.9M176.8 84.1h0.9M175.9 84.7h0.9M176.8 86.4h0.9M178.5 84.9h0.9M167.7 87.5h0.9M168.2 90.8h0.9M174.3 81.0h0.9M178.5 89.8h0.9M175.3 77.8h0.9M171.1 87.5h0.9M171.0 86.6h0.9M177.6 81.7h0.9M165.7 91.7h0.9M170.2 86.2h0.9M164.9 84.2h0.9M162.9 89.5h0.9M159.7 82.8h0.9M174.8 78.0h0.9M167.4 89.7h0.9M159.6 98.5h0.9M167.4 90.2h0.9M168.4 88.2h0.9M171.1 85.1h0.9M157.7 89.0h0.9M172.8 89.2h0.9M168.4 89.0h0.9M172.3 86.1h0.9M173.3 77.8h0.9M171.7 84.0h0.9M167.2 84.6h0.9M164.3 86.0h0.9M169.0 96.2h0.9M180.0 78.8h0.9M172.9 80.1h0.9M151.8 91.9h0.9M173.9 88.6h0.9M168.5 83.1h0.9M167.4 83.9h0.9M162.3 90.4h0.9M166.8 85.0h0.9M163.9 86.6h0.9M174.3 88.1h0.9M173.4 92.0h0.9M162.0 92.6h0.9M163.8 89.7h0.9M172.1 86.5h0.9M175.8 79.6h0.9M163.3 89.9h0.9M170.9 82.6h0.9M178.5 86.2h0.9M163.3 92.1h0.9" stroke="#111" stroke-width="0.9" opacity="1" fill="none"/>
<rect x="142.3" y="15.3" width="8.6" height="7.5" fill="#fff" stroke="#333" stroke-width="0.9"/>
<text x="146.60000000000002" y="21.15" font-size="6" text-anchor="middle" fill="#333">25</text>
<rect x="220.4" y="15.3" width="8.6" height="7.5" fill="#fff" stroke="#333" stroke-width="0.9"/>
<text x="224.70000000000002" y="21.15" font-size="6" text-anchor="middle" fill="#333">21</text>
<rect x="142.3" y="74.8" width="8.6" height="7.3" fill="#fff" stroke="#333" stroke-width="0.9"/>
<text x="146.60000000000002" y="80.55" font-size="6" text-anchor="middle" fill="#333">53</text>
<rect x="221" y="74.8" width="6.8" height="7.3" fill="#fff" stroke="#333" stroke-width="0.9"/>
<text x="224.4" y="80.55" font-size="6" text-anchor="middle" fill="#333">1</text>
</g>
<text x="242.8" y="24.2" font-size="13.2" text-anchor="start" stroke="#000" stroke-width="0.15">A</text>
<text x="119.8" y="19.3" font-size="9.8" stroke="#000" stroke-width="0.15">10<tspan dy="-2.9" font-size="6.4">4</tspan></text>
<text x="119.3" y="106.1" font-size="9.8" stroke="#000" stroke-width="0.15">10<tspan dy="-2.9" font-size="6.4">0</tspan></text>
<text x="133.7" y="119.0" font-size="9.8" stroke="#000" stroke-width="0.15">10<tspan dy="-2.9" font-size="6.4">0</tspan></text>
<text x="224.8" y="119.0" font-size="9.8" stroke="#000" stroke-width="0.15">10<tspan dy="-2.9" font-size="6.4">4</tspan></text>
<text x="113.6" y="55.6" font-size="8.8" text-anchor="middle" stroke="#000" stroke-width="0.15">CD4</text>
<text x="113.6" y="66.2" font-size="8.8" text-anchor="middle" stroke="#000" stroke-width="0.15">(PE)</text>
<text x="182.1" y="115.7" font-size="10.3" text-anchor="middle" stroke="#000" stroke-width="0.15">CD45RA</text>
<text x="182.3" y="127.9" font-size="10.3" text-anchor="middle" stroke="#000" stroke-width="0.15">(FITC)</text>
<g id="insetB">
<g clip-path="url(#cB)"><g filter="url(#bl)">
<ellipse cx="156" cy="158" rx="17" ry="10" fill="#000" opacity="0.15" transform="rotate(-35 156 158)"/>
<ellipse cx="158" cy="176" rx="13" ry="11" fill="#000" opacity="0.08" transform="rotate(0 158 176)"/>
<ellipse cx="190" cy="160" rx="10" ry="14" fill="#000" opacity="0.025" transform="rotate(0 190 160)"/>
<ellipse cx="166" cy="203" rx="7" ry="11" fill="#000" opacity="0.03" transform="rotate(0 166 203)"/>
</g></g>
<path d="M156.8 143.6h0.7M156.8 157.6h0.7M149.6 175.2h0.7M155.9 156.1h0.7M162.0 161.2h0.7M164.4 159.0h0.7M154.8 151.1h0.7M153.1 163.0h0.7M141.9 187.2h0.7M148.9 156.2h0.7M142.3 171.4h0.7M154.0 156.5h0.7M149.2 157.3h0.7M149.6 163.6h0.7M153.4 167.4h0.7M155.4 161.5h0.7M164.2 164.9h0.7M161.7 158.0h0.7M151.6 156.4h0.7M155.9 165.7h0.7M156.3 156.6h0.7M162.5 164.0h0.7M153.7 150.2h0.7M155.1 162.4h0.7M149.9 167.0h0.7M151.2 156.4h0.7M149.1 171.4h0.7M155.5 153.0h0.7M151.3 170.6h0.7M159.6 155.0h0.7M167.7 149.6h0.7M151.7 172.0h0.7M155.8 163.0h0.7M152.4 154.2h0.7M145.7 165.4h0.7M163.4 146.6h0.7M167.8 153.8h0.7M148.1 167.6h0.7M157.1 151.8h0.7M148.8 168.6h0.7M143.8 156.1h0.7M154.7 162.3h0.7M147.0 156.4h0.7M151.0 149.0h0.7M162.2 159.8h0.7M159.9 159.5h0.7M151.1 152.4h0.7M169.8 154.9h0.7M149.3 155.1h0.7M170.0 154.8h0.7M149.1 170.3h0.7M171.1 149.5h0.7M157.6 155.5h0.7M155.1 169.5h0.7M158.1 165.1h0.7M156.4 165.8h0.7M158.7 149.8h0.7M147.1 165.5h0.7M163.7 157.0h0.7M160.7 145.5h0.7M157.6 153.8h0.7M158.0 161.3h0.7M147.3 164.0h0.7M147.7 167.9h0.7M147.3 161.9h0.7M155.2 155.1h0.7M162.8 150.1h0.7M163.9 156.9h0.7M146.9 164.4h0.7M147.9 162.6h0.7M160.8 171.7h0.7M158.7 171.1h0.7M154.6 150.2h0.7M142.8 174.9h0.7M165.7 156.6h0.7M153.4 159.7h0.7M156.9 156.9h0.7M150.3 160.9h0.7M163.0 150.1h0.7M154.6 151.5h0.7M145.0 156.2h0.7M157.0 164.9h0.7M156.6 155.6h0.7M159.6 154.7h0.7M160.0 159.5h0.7M150.8 143.2h0.7M148.6 171.4h0.7M163.7 173.1h0.7M152.0 158.2h0.7M170.1 154.9h0.7M157.1 165.2h0.7M148.0 161.8h0.7M150.7 161.8h0.7M160.4 153.1h0.7M156.7 155.5h0.7M155.0 162.1h0.7M151.3 171.5h0.7M162.6 166.0h0.7M166.1 158.3h0.7M150.7 154.7h0.7M152.5 158.6h0.7M156.2 156.0h0.7M163.6 151.0h0.7M157.6 166.5h0.7M151.4 153.2h0.7M158.6 156.7h0.7M144.7 161.6h0.7M161.0 159.0h0.7M162.0 173.7h0.7M157.0 154.3h0.7M157.4 158.0h0.7M152.8 179.1h0.7M153.5 159.5h0.7M155.2 168.6h0.7M162.7 169.4h0.7M168.6 164.9h0.7M156.5 162.7h0.7M151.9 161.4h0.7M145.9 161.5h0.7M166.7 154.8h0.7M169.0 158.1h0.7M167.2 160.6h0.7M154.2 167.8h0.7M151.4 158.8h0.7M154.8 175.0h0.7M159.4 150.8h0.7M159.6 160.6h0.7M157.6 156.0h0.7M145.9 167.2h0.7M165.8 159.7h0.7M165.5 162.5h0.7M148.0 165.2h0.7M162.5 163.7h0.7M159.2 162.0h0.7M165.1 171.0h0.7M141.9 170.7h0.7M142.0 164.0h0.7M164.3 168.3h0.7M162.2 161.2h0.7M164.9 155.6h0.7M148.8 164.1h0.7M157.6 156.6h0.7M149.3 161.6h0.7M153.9 158.5h0.7M161.6 167.6h0.7M158.3 158.2h0.7M142.6 160.4h0.7M155.7 153.1h0.7M155.3 151.7h0.7M156.8 158.9h0.7M162.4 152.4h0.7M154.0 163.4h0.7M162.9 169.1h0.7M151.9 158.4h0.7M155.3 164.4h0.7M160.5 162.6h0.7M154.4 181.3h0.7M170.5 149.8h0.7M147.0 167.4h0.7M150.8 145.3h0.7M150.5 151.7h0.7M164.9 165.2h0.7M158.5 146.0h0.7M170.4 157.5h0.7M155.0 164.8h0.7M166.8 149.9h0.7M153.7 157.0h0.7M163.6 146.9h0.7M157.2 145.9h0.7M146.3 161.8h0.7M156.4 146.5h0.7M158.4 153.2h0.7M164.7 151.5h0.7M159.2 156.4h0.7M168.9 148.3h0.7M163.3 171.2h0.7M159.2 163.4h0.7M150.9 165.1h0.7M145.1 155.2h0.7M149.1 174.0h0.7M153.6 149.3h0.7M167.8 146.3h0.7M154.0 163.4h0.7M154.6 170.6h0.7M157.6 146.0h0.7M165.7 153.6h0.7M160.2 157.6h0.7M155.5 152.2h0.7M146.1 161.0h0.7M155.4 165.4h0.7M152.4 175.5h0.7M148.7 160.2h0.7M163.2 158.6h0.7M149.2 155.9h0.7M142.0 156.5h0.7M169.2 159.8h0.7M172.7 152.6h0.7M161.5 162.4h0.7M162.6 153.4h0.7M167.0 170.1h0.7M151.2 169.4h0.7M164.1 151.7h0.7M161.2 156.1h0.7M156.3 155.4h0.7M155.8 160.1h0.7M143.6 172.8h0.7M159.6 165.4h0.7M167.4 158.6h0.7M158.8 150.3h0.7M148.8 178.6h0.7M162.0 148.1h0.7M168.8 156.7h0.7M152.6 171.9h0.7M147.8 159.6h0.7M142.9 167.2h0.7M161.5 150.7h0.7M149.4 182.0h0.7M147.1 156.2h0.7M145.1 172.0h0.7M162.3 147.0h0.7M154.9 158.5h0.7M155.9 164.2h0.7M170.2 145.1h0.7M166.9 161.4h0.7M153.2 160.7h0.7M149.4 173.3h0.7M149.3 159.2h0.7M153.3 154.9h0.7M146.6 164.0h0.7M167.0 150.8h0.7M154.6 149.0h0.7M147.4 180.7h0.7M147.0 153.6h0.7M157.5 164.0h0.7M154.6 153.5h0.7M166.0 161.0h0.7M157.9 155.2h0.7M153.2 156.7h0.7M156.2 162.5h0.7M157.3 167.1h0.7M161.9 162.7h0.7M160.2 155.2h0.7M156.0 168.2h0.7M162.9 159.4h0.7M152.0 167.9h0.7M161.6 154.6h0.7M169.4 168.6h0.7M143.4 173.6h0.7M141.5 158.8h0.7M156.2 164.3h0.7M152.0 153.2h0.7M142.4 164.7h0.7M152.9 155.3h0.7M150.7 178.0h0.7M148.7 163.7h0.7M149.4 159.7h0.7M155.2 158.1h0.7M156.4 150.0h0.7M151.6 179.0h0.7M158.3 164.7h0.7M167.5 156.7h0.7M150.3 151.1h0.7M147.0 174.2h0.7M163.6 159.5h0.7M143.0 159.2h0.7M153.4 153.4h0.7M166.3 147.9h0.7M154.8 167.9h0.7M155.2 153.2h0.7M169.9 166.3h0.7M145.2 165.3h0.7M163.7 160.5h0.7M165.4 157.1h0.7" stroke="#888" stroke-width="0.7" opacity="0.8" fill="none"/>
<path d="M152.2 170.1h0.7M148.3 181.5h0.7M155.4 188.5h0.7M162.1 165.9h0.7M165.8 184.3h0.7M158.3 169.9h0.7M157.3 165.9h0.7M147.0 167.1h0.7M167.5 183.9h0.7M154.5 169.1h0.7M157.5 179.2h0.7M144.6 170.2h0.7M157.1 181.1h0.7M158.7 179.6h0.7M147.1 162.4h0.7M160.7 171.6h0.7M156.9 174.8h0.7M162.2 172.5h0.7M170.7 177.2h0.7M162.6 180.7h0.7M167.1 179.4h0.7M142.6 173.3h0.7M162.9 179.7h0.7M152.4 173.0h0.7M152.3 183.8h0.7M161.2 187.4h0.7M162.4 188.1h0.7M162.0 170.1h0.7M168.5 178.3h0.7M155.1 178.0h0.7M148.1 170.0h0.7M150.2 173.9h0.7M146.0 176.4h0.7M165.8 175.7h0.7M161.5 176.8h0.7M153.2 177.4h0.7M144.9 179.6h0.7M155.4 170.6h0.7M154.8 180.3h0.7M152.0 179.8h0.7M163.0 186.2h0.7M148.4 176.3h0.7M162.5 185.9h0.7M160.3 181.5h0.7M145.0 173.6h0.7M172.7 175.3h0.7M155.5 167.6h0.7M163.6 178.6h0.7M155.8 168.7h0.7M157.3 182.6h0.7M164.6 184.3h0.7M165.7 176.7h0.7M163.4 178.0h0.7M146.2 187.1h0.7M161.3 170.8h0.7M161.4 178.7h0.7M166.9 185.6h0.7M171.6 171.4h0.7M141.5 178.7h0.7M161.0 179.1h0.7M148.1 174.2h0.7M159.7 181.4h0.7M152.6 163.0h0.7M167.6 176.2h0.7M157.0 171.1h0.7M164.5 166.3h0.7M159.0 177.7h0.7M160.7 184.8h0.7M157.1 177.6h0.7M165.6 167.8h0.7M155.4 177.4h0.7M166.5 172.2h0.7M165.2 179.3h0.7M144.7 168.2h0.7M145.2 177.8h0.7M159.8 181.3h0.7M165.3 173.7h0.7M167.6 181.9h0.7M162.2 179.9h0.7M146.5 179.2h0.7M148.8 169.9h0.7M154.9 177.8h0.7M157.5 175.0h0.7M149.1 178.1h0.7M151.4 168.6h0.7M158.8 185.7h0.7M154.4 170.7h0.7M170.4 187.2h0.7M155.4 175.7h0.7M159.2 182.9h0.7M162.0 166.1h0.7M148.1 169.6h0.7M161.9 177.6h0.7M160.8 177.4h0.7M160.6 185.8h0.7M169.6 173.4h0.7M164.1 174.7h0.7M159.0 177.9h0.7M158.2 174.2h0.7M172.0 175.4h0.7M164.3 187.0h0.7M163.6 183.1h0.7M170.5 183.5h0.7M142.3 173.2h0.7M145.5 176.9h0.7M144.6 171.0h0.7M160.7 177.9h0.7M150.8 175.6h0.7M157.1 177.4h0.7M157.9 175.7h0.7M165.9 167.4h0.7M153.6 177.8h0.7M154.4 173.7h0.7M154.1 178.3h0.7M169.2 175.9h0.7M155.6 179.1h0.7M155.8 165.4h0.7M160.4 174.7h0.7M152.9 180.8h0.7M158.4 173.6h0.7M158.1 176.3h0.7M161.9 178.3h0.7M153.7 169.4h0.7M148.2 176.2h0.7M147.7 181.5h0.7M146.1 166.3h0.7M156.3 166.4h0.7M172.6 171.0h0.7M157.5 175.5h0.7M150.6 166.4h0.7M141.3 182.2h0.7M144.8 180.4h0.7M157.9 182.1h0.7M153.4 181.3h0.7M166.1 180.6h0.7M171.0 176.0h0.7M171.9 172.8h0.7M158.1 172.2h0.7M158.0 183.2h0.7M164.5 177.6h0.7M150.7 186.1h0.7M161.0 164.6h0.7M161.1 169.9h0.7M171.3 183.9h0.7M153.1 184.8h0.7M150.5 182.5h0.7M163.2 176.2h0.7M145.2 175.3h0.7M141.3 184.3h0.7M149.3 162.4h0.7M163.3 179.2h0.7M165.0 177.4h0.7M152.2 159.3h0.7M162.3 182.8h0.7M152.7 168.5h0.7M157.6 167.0h0.7M158.1 181.6h0.7M171.6 178.6h0.7M159.8 181.5h0.7M170.6 175.1h0.7M146.9 172.3h0.7M146.7 171.7h0.7M156.9 179.1h0.7M159.4 177.4h0.7M154.8 179.5h0.7M166.0 181.6h0.7M171.5 175.3h0.7M155.7 187.2h0.7M159.8 179.5h0.7M155.0 182.8h0.7M154.4 171.0h0.7M157.5 174.3h0.7M165.5 174.7h0.7M159.1 175.7h0.7M161.1 173.2h0.7M167.9 168.5h0.7M154.5 172.7h0.7M163.8 177.2h0.7M162.4 175.0h0.7M151.5 170.3h0.7M155.0 173.8h0.7M160.5 179.1h0.7M166.8 176.4h0.7M151.3 170.6h0.7M158.6 179.2h0.7M148.6 184.3h0.7M168.2 185.1h0.7M157.9 182.7h0.7M153.7 176.6h0.7M158.2 187.7h0.7M156.1 182.7h0.7M158.6 172.7h0.7M160.2 181.0h0.7M151.6 180.8h0.7M151.6 171.7h0.7M160.0 175.6h0.7M149.2 167.2h0.7M158.2 178.5h0.7M153.9 178.1h0.7M144.3 179.4h0.7M161.7 178.7h0.7M152.5 177.5h0.7M159.2 183.4h0.7M160.5 178.5h0.7M151.5 182.2h0.7M168.6 174.0h0.7M163.7 178.8h0.7" stroke="#999" stroke-width="0.7" opacity="0.8" fill="none"/>
<path d="M189.6 145.9h0.7M204.1 139.5h0.7M192.4 155.9h0.7M199.2 155.4h0.7M190.3 166.7h0.7M193.6 154.3h0.7M195.4 164.3h0.7M197.9 154.4h0.7M189.6 155.7h0.7M183.3 162.8h0.7M193.3 175.6h0.7M187.4 164.3h0.7M199.1 158.7h0.7M190.5 161.5h0.7M184.5 149.2h0.7M198.9 161.9h0.7M189.4 146.4h0.7M190.9 172.9h0.7M180.8 150.2h0.7M198.8 175.7h0.7M202.4 153.9h0.7M194.8 151.8h0.7M194.1 156.0h0.7M191.6 174.7h0.7M192.7 157.4h0.7M190.4 162.9h0.7M185.9 162.3h0.7M194.8 177.1h0.7M180.2 169.6h0.7M209.4 162.1h0.7M191.0 172.5h0.7M186.0 154.7h0.7M192.7 153.6h0.7M198.8 160.0h0.7M193.0 187.7h0.7M186.4 170.1h0.7M183.4 173.6h0.7M197.7 161.5h0.7M197.9 177.6h0.7M200.9 160.0h0.7M189.6 172.1h0.7M178.3 153.4h0.7M193.8 166.2h0.7M204.8 179.2h0.7M192.6 164.8h0.7M179.5 158.0h0.7M192.1 157.5h0.7M190.5 166.6h0.7M182.5 153.8h0.7M175.9 172.5h0.7M181.6 141.5h0.7M196.1 157.7h0.7M197.7 156.0h0.7M206.8 167.8h0.7M191.2 161.3h0.7M188.4 168.8h0.7M205.8 155.4h0.7M181.4 166.5h0.7M198.4 143.8h0.7M184.5 149.2h0.7M194.4 165.5h0.7M184.2 147.8h0.7M195.4 137.7h0.7M195.1 158.3h0.7M205.2 170.8h0.7M185.4 157.0h0.7M187.8 152.1h0.7M190.6 170.5h0.7M178.1 157.5h0.7M201.8 168.1h0.7M183.6 151.3h0.7M183.3 142.6h0.7M199.1 160.8h0.7M184.5 144.5h0.7M187.0 154.5h0.7M203.6 155.0h0.7M190.9 171.6h0.7M195.3 158.0h0.7M194.7 155.3h0.7M189.3 149.7h0.7M182.9 143.9h0.7M193.9 165.6h0.7M191.4 168.4h0.7M194.2 161.3h0.7M183.1 166.4h0.7M199.3 166.8h0.7" stroke="#aaa" stroke-width="0.7" opacity="0.8" fill="none"/>
<path d="M173.4 198.8h0.7M160.2 214.1h0.7M162.6 205.1h0.7M164.9 203.2h0.7M164.4 198.2h0.7M155.5 219.8h0.7M160.7 193.1h0.7M169.4 217.5h0.7M164.6 209.6h0.7M169.5 192.0h0.7M162.6 199.8h0.7M173.4 204.0h0.7M165.3 195.9h0.7M166.5 203.4h0.7M170.3 215.3h0.7M170.3 203.2h0.7M165.1 217.1h0.7M167.2 202.9h0.7M176.6 216.8h0.7M169.3 202.0h0.7M162.3 212.4h0.7M163.3 211.5h0.7M161.4 203.9h0.7M168.4 204.3h0.7M167.4 206.4h0.7M159.4 193.2h0.7M165.1 218.9h0.7M165.3 194.8h0.7M162.1 203.3h0.7M172.9 198.0h0.7M169.3 204.6h0.7M163.9 194.7h0.7M165.1 196.6h0.7M172.6 209.7h0.7M169.4 216.2h0.7M166.3 207.0h0.7M162.0 193.1h0.7M168.5 207.5h0.7M163.5 200.9h0.7M163.0 198.0h0.7M165.7 212.4h0.7M156.6 200.0h0.7M175.5 205.8h0.7M166.9 210.3h0.7M160.1 192.4h0.7M167.5 210.5h0.7M163.6 197.0h0.7M168.4 208.4h0.7M167.4 195.6h0.7M162.2 216.2h0.7M173.7 207.2h0.7M167.6 204.5h0.7M162.6 202.6h0.7M177.2 195.3h0.7M162.1 204.4h0.7M171.2 210.3h0.7M160.4 201.9h0.7M164.5 192.2h0.7M166.5 198.8h0.7M171.4 206.8h0.7M161.4 203.7h0.7M163.9 197.4h0.7" stroke="#bbb" stroke-width="0.7" opacity="0.8" fill="none"/>
<path d="M152.2 164.5h0.8M163.7 177.7h0.8M153.8 163.1h0.8M169.9 185.0h0.8M160.9 147.7h0.8M156.2 171.7h0.8M151.1 144.7h0.8M171.5 183.9h0.8M146.7 164.0h0.8M161.0 156.5h0.8M145.0 176.8h0.8M165.4 162.7h0.8M145.5 160.7h0.8M145.7 186.4h0.8M144.5 156.0h0.8M165.3 149.1h0.8M146.1 146.2h0.8M147.8 166.9h0.8M167.2 150.6h0.8M148.0 177.4h0.8M155.3 158.2h0.8M146.6 153.9h0.8M171.2 148.3h0.8M150.5 176.3h0.8M168.9 183.7h0.8M156.7 186.0h0.8M160.5 156.0h0.8M156.5 175.2h0.8M164.3 148.8h0.8M148.6 186.1h0.8M146.1 179.6h0.8M152.8 154.2h0.8M150.4 164.1h0.8M171.7 149.7h0.8M167.8 157.5h0.8M148.0 176.5h0.8M152.9 151.4h0.8M155.1 180.0h0.8M168.0 168.9h0.8M143.3 177.4h0.8M160.6 183.5h0.8M170.6 157.7h0.8M167.6 179.9h0.8M150.7 159.5h0.8M153.9 158.9h0.8M154.0 148.0h0.8M149.6 183.9h0.8M154.9 171.6h0.8M168.7 177.0h0.8M150.1 184.4h0.8M166.3 187.6h0.8M164.1 177.0h0.8M166.6 154.4h0.8M162.0 160.1h0.8M167.4 149.0h0.8M158.6 158.1h0.8M166.8 158.5h0.8M167.5 181.2h0.8M168.5 149.3h0.8M170.2 176.5h0.8M162.6 172.4h0.8M144.4 182.2h0.8M158.9 163.5h0.8M152.8 178.2h0.8M165.7 182.1h0.8M149.2 158.3h0.8M150.2 147.5h0.8M152.5 144.2h0.8M166.1 153.2h0.8M145.0 146.0h0.8M164.5 151.9h0.8M156.4 161.1h0.8M166.3 185.9h0.8M152.0 171.5h0.8M168.9 164.2h0.8M169.1 176.0h0.8M152.0 182.3h0.8M159.6 147.8h0.8M160.0 180.3h0.8M158.0 164.8h0.8M155.1 182.6h0.8M162.3 152.4h0.8M153.5 159.3h0.8M170.8 174.3h0.8M146.6 184.1h0.8M144.0 169.6h0.8M155.5 175.3h0.8M155.5 147.2h0.8M158.2 179.9h0.8M165.9 159.0h0.8M149.4 176.5h0.8M166.2 152.9h0.8M168.6 187.7h0.8M155.6 160.1h0.8M163.6 184.8h0.8M148.8 156.6h0.8M152.5 175.9h0.8M148.4 167.6h0.8M157.5 173.1h0.8M147.2 186.0h0.8M172.0 168.2h0.8M166.1 151.3h0.8M169.4 167.8h0.8M165.0 182.1h0.8M153.5 184.6h0.8M149.0 144.1h0.8M157.6 183.4h0.8M169.1 186.0h0.8M157.8 185.0h0.8M159.2 149.5h0.8M161.3 179.2h0.8M155.3 170.1h0.8M150.5 155.4h0.8M155.2 166.1h0.8M156.6 147.2h0.8M143.2 158.3h0.8M163.8 176.7h0.8M149.9 154.5h0.8M158.0 150.9h0.8M160.5 183.7h0.8M148.9 169.3h0.8M163.9 176.7h0.8M163.7 175.0h0.8M150.9 180.7h0.8M169.8 145.4h0.8M170.4 162.9h0.8M145.5 146.1h0.8M166.1 173.5h0.8M147.1 163.7h0.8M161.5 187.9h0.8M152.7 177.5h0.8M150.1 151.9h0.8M147.7 161.5h0.8M160.9 156.6h0.8M147.7 152.8h0.8M145.5 151.7h0.8M152.2 165.7h0.8M148.3 164.6h0.8M155.8 186.8h0.8M157.1 185.5h0.8M156.7 151.9h0.8M160.2 149.5h0.8M147.9 146.3h0.8M163.3 186.5h0.8M154.7 158.9h0.8M155.3 158.8h0.8M163.0 160.6h0.8M147.4 181.9h0.8M159.6 143.3h0.8M167.6 175.8h0.8M153.3 171.3h0.8M169.7 161.1h0.8M155.5 156.4h0.8M159.1 172.8h0.8M164.3 185.7h0.8M147.2 159.5h0.8M167.7 178.6h0.8M160.1 173.5h0.8M152.9 185.5h0.8M158.9 161.1h0.8M148.3 148.2h0.8M169.0 179.0h0.8M143.8 157.5h0.8M156.9 165.3h0.8M153.5 183.3h0.8M153.1 166.9h0.8M170.0 171.8h0.8M156.8 158.0h0.8M154.2 170.4h0.8M165.8 154.7h0.8" stroke="#777" stroke-width="0.8" opacity="0.7" fill="none"/>
<path d="M187.2 158.6h0.8M187.0 183.8h0.8M192.8 153.2h0.8M186.0 179.4h0.8M180.3 173.1h0.8M175.7 149.3h0.8M177.0 178.7h0.8M179.8 150.9h0.8M176.9 152.7h0.8M199.2 174.6h0.8M205.0 185.5h0.8M193.2 184.3h0.8M178.0 184.4h0.8M189.3 149.3h0.8M199.7 181.2h0.8M187.7 144.5h0.8M203.8 176.2h0.8M194.7 186.9h0.8M176.3 142.7h0.8M179.1 141.0h0.8M198.4 170.2h0.8M178.7 147.8h0.8M181.0 169.2h0.8M197.2 186.5h0.8M186.9 187.0h0.8M189.3 158.8h0.8M183.4 151.2h0.8M207.2 187.8h0.8M198.3 148.4h0.8M180.9 147.3h0.8M186.6 175.4h0.8M176.9 165.5h0.8M197.5 141.6h0.8M189.5 178.0h0.8M194.0 161.7h0.8M204.1 168.8h0.8M186.1 159.0h0.8M206.1 181.3h0.8M205.2 166.9h0.8M179.7 148.4h0.8M187.6 173.2h0.8M175.2 178.5h0.8M200.9 164.7h0.8M175.2 178.3h0.8M188.7 172.1h0.8M193.8 175.0h0.8M188.5 186.1h0.8M206.5 184.6h0.8M195.3 155.2h0.8M187.4 152.9h0.8M204.8 178.0h0.8M201.0 179.4h0.8M207.7 173.0h0.8M185.5 176.4h0.8M183.7 169.3h0.8M180.2 181.2h0.8M191.1 153.2h0.8M205.5 144.0h0.8M205.7 176.3h0.8M179.9 176.5h0.8M193.9 183.5h0.8M194.4 160.5h0.8M205.8 144.2h0.8M200.6 144.9h0.8M184.1 145.5h0.8M203.8 161.2h0.8M199.0 152.3h0.8M199.1 171.1h0.8M178.2 163.7h0.8M198.8 150.3h0.8M196.6 153.3h0.8M187.2 184.2h0.8M206.1 187.9h0.8M189.1 167.4h0.8M201.7 176.4h0.8M190.1 181.5h0.8M188.2 185.6h0.8M190.6 145.7h0.8M199.7 147.0h0.8M197.4 142.6h0.8" stroke="#999" stroke-width="0.8" opacity="0.6" fill="none"/>
<path d="M179.6 207.2h0.8M172.2 194.9h0.8M169.1 202.3h0.8M157.5 215.4h0.8M151.0 205.3h0.8M152.6 216.5h0.8M176.8 192.0h0.8M163.9 205.1h0.8M171.6 212.9h0.8M160.3 219.0h0.8M155.6 195.1h0.8M174.4 194.6h0.8M155.6 206.0h0.8M160.1 195.9h0.8M177.9 205.2h0.8M173.6 198.5h0.8M177.4 197.6h0.8M177.2 209.4h0.8M179.1 214.1h0.8M168.9 207.0h0.8M175.6 204.3h0.8M153.0 218.4h0.8M174.2 211.5h0.8M172.3 198.0h0.8M163.9 215.7h0.8M178.9 218.7h0.8M154.8 211.5h0.8M166.6 203.2h0.8M155.0 195.1h0.8M164.1 205.8h0.8M158.0 202.0h0.8M166.6 213.9h0.8M167.7 195.9h0.8M176.6 202.0h0.8M178.8 220.4h0.8M154.2 208.5h0.8M179.0 202.6h0.8M166.4 200.4h0.8M150.9 197.1h0.8M153.7 199.5h0.8M168.9 207.9h0.8M178.4 211.6h0.8M160.9 219.5h0.8M169.0 207.3h0.8M175.9 211.1h0.8" stroke="#999" stroke-width="0.8" opacity="0.6" fill="none"/>
<rect x="140.2" y="133.6" width="90.4" height="90.1" fill="none" stroke="#333" stroke-width="1"/>
<path d="M140.2 133.6V223.7H230.6" stroke="#111" stroke-width="1.3" fill="none"/>
<path d="M173.8 133.6V223.7M140.2 189.6H230.6" stroke="#333" stroke-width="0.85" fill="none"/>
<path d="M140.2 133.6h-3M140.2 223.7v3M140.2 156.1h-3M162.8 223.7v3M140.2 178.6h-3M185.4 223.7v3M140.2 201.2h-3M208.0 223.7v3M140.2 223.7h-3M230.6 223.7v3" stroke="#333" stroke-width="0.8" fill="none"/>
<path d="M140.2 216.9h-1.6M147.0 223.7v1.6M140.2 212.9h-1.6M151.0 223.7v1.6M140.2 210.2h-1.6M153.8 223.7v1.6M140.2 207.9h-1.6M156.0 223.7v1.6M140.2 206.1h-1.6M157.8 223.7v1.6M140.2 204.6h-1.6M159.4 223.7v1.6M140.2 203.4h-1.6M160.5 223.7v1.6M140.2 202.3h-1.6M161.7 223.7v1.6M140.2 194.4h-1.6M169.6 223.7v1.6M140.2 190.4h-1.6M173.6 223.7v1.6M140.2 187.7h-1.6M176.4 223.7v1.6M140.2 185.4h-1.6M178.6 223.7v1.6M140.2 183.6h-1.6M180.4 223.7v1.6M140.2 182.0h-1.6M182.0 223.7v1.6M140.2 180.9h-1.6M183.1 223.7v1.6M140.2 179.8h-1.6M184.3 223.7v1.6M140.2 171.9h-1.6M192.2 223.7v1.6M140.2 167.8h-1.6M196.2 223.7v1.6M140.2 165.1h-1.6M199.0 223.7v1.6M140.2 162.9h-1.6M201.2 223.7v1.6M140.2 161.1h-1.6M203.0 223.7v1.6M140.2 159.5h-1.6M204.6 223.7v1.6M140.2 158.4h-1.6M205.7 223.7v1.6M140.2 157.3h-1.6M206.9 223.7v1.6M140.2 149.4h-1.6M214.8 223.7v1.6M140.2 145.3h-1.6M218.8 223.7v1.6M140.2 142.6h-1.6M221.6 223.7v1.6M140.2 140.4h-1.6M223.8 223.7v1.6M140.2 138.6h-1.6M225.6 223.7v1.6M140.2 137.0h-1.6M227.2 223.7v1.6M140.2 135.9h-1.6M228.3 223.7v1.6M140.2 134.7h-1.6M229.5 223.7v1.6" stroke="#444" stroke-width="0.6" fill="none"/>
<path d="M169.0 146.3L169.1 148.6L168.6 151.1L166.8 154.0L165.6 157.2L163.2 159.9L161.2 163.2L160.1 164.9L158.8 167.8L159.5 169.3L160.1 170.7L158.4 169.9L156.3 169.3L154.7 168.6L153.5 168.0L151.8 166.6L150.0 165.4L148.0 164.6L146.3 164.6L145.0 163.3L143.4 161.8L142.2 160.5L141.4 159.5L142.7 157.8L144.1 156.4L145.6 154.5L148.3 153.2L150.8 151.7L152.7 150.4L155.9 148.9L158.2 147.7L161.8 147.1L164.2 145.8L166.5 145.8Z" fill="#fff" stroke="#111" stroke-width="1.0" stroke-linejoin="round"/>
<path d="M167.3 148.2L167.3 149.7L166.5 151.9L165.4 154.9L164.6 157.2L162.7 159.8L160.6 162.1L159.4 164.4L158.0 166.2L158.8 167.6L159.8 168.7L158.7 167.7L156.4 168.0L155.5 166.5L154.8 166.6L152.4 165.0L151.0 163.9L149.8 163.3L148.2 162.8L146.6 162.6L145.8 161.2L145.0 160.2L143.8 158.8L145.3 158.3L146.6 156.6L147.8 155.0L149.9 154.1L151.4 152.4L153.7 151.5L156.5 150.4L158.0 149.7L160.9 148.6L163.2 147.8L165.3 148.2Z" fill="none" stroke="#111" stroke-width="0.85" stroke-linejoin="round"/>
<path d="M165.0 150.5L165.3 152.2L164.7 153.1L163.6 155.1L163.2 157.0L161.7 159.1L160.1 161.3L159.6 162.9L157.8 164.1L158.6 165.8L159.8 166.9L158.6 166.4L157.4 165.9L155.8 165.4L155.0 164.8L153.9 163.6L152.6 162.8L151.2 162.1L150.4 162.5L149.7 161.6L148.5 160.9L147.3 160.1L146.8 158.8L147.5 158.0L148.4 156.8L150.1 155.7L151.0 154.9L152.8 153.6L154.4 152.8L156.1 152.3L158.8 151.2L160.5 151.1L161.8 149.8L164.1 150.5Z" fill="none" stroke="#111" stroke-width="0.85" stroke-linejoin="round"/>
<path d="M160.9 153.9L161.4 155.2L160.9 155.5L160.7 157.3L159.6 158.7L158.7 160.1L157.6 160.9L157.7 162.0L156.4 163.5L157.1 163.6L157.5 164.9L156.2 164.6L155.3 163.9L154.6 163.4L154.8 163.2L154.1 162.7L152.9 162.6L152.1 161.6L151.1 161.9L150.1 160.8L150.2 160.7L149.0 160.1L148.5 159.9L149.4 158.5L150.3 157.7L150.7 157.0L152.1 156.4L153.0 155.7L154.1 155.6L155.4 154.9L156.6 154.3L158.0 153.5L159.3 153.3L160.7 154.0Z" fill="none" stroke="#111" stroke-width="0.8" stroke-linejoin="round"/>
<path d="M160.9 151.1L161.9 150.1L163.4 148.9L164.6 149.7L165.9 150.2L165.3 151.0L165.6 152.3L164.3 153.5L163.8 155.3L162.5 154.9L161.3 155.3L160.5 153.4Z" fill="none" stroke="#111" stroke-width="0.8" stroke-linejoin="round"/>
<path d="M142 160q2 4 5 5.500M158 166q1.500 3 3 5M145 158l3 4M147.500 155.500l2 4M150 163l3 2.500" stroke="#111" stroke-width="0.9" fill="none"/>
<circle cx="197" cy="150.2" r="1.1" fill="#111"/>
<rect x="142.6" y="135.8" width="8.2" height="7.3" fill="#fff" stroke="#333" stroke-width="0.9"/>
<text x="146.7" y="141.55" font-size="6" text-anchor="middle" fill="#333">94</text>
<rect x="219.6" y="135.4" width="8.2" height="7.9" fill="#fff" stroke="#333" stroke-width="0.9"/>
<text x="223.7" y="141.45" font-size="6" text-anchor="middle" fill="#333">4</text>
<rect x="142.3" y="191.8" width="7.7" height="7.1" fill="#fff" stroke="#333" stroke-width="0.9"/>
<text x="146.15" y="197.45" font-size="6" text-anchor="middle" fill="#333">2</text>
<rect x="219.6" y="191.8" width="7.8" height="7.1" fill="#fff" stroke="#333" stroke-width="0.9"/>
<text x="223.5" y="197.45" font-size="6" text-anchor="middle" fill="#333">0</text>
</g>
<text x="241.8" y="143.4" font-size="13.2" text-anchor="start" stroke="#000" stroke-width="0.15">B</text>
<text x="119.9" y="138.3" font-size="9.8" stroke="#000" stroke-width="0.15">10<tspan dy="-2.9" font-size="6.4">4</tspan></text>
<text x="119.3" y="229.2" font-size="9.8" stroke="#000" stroke-width="0.15">10<tspan dy="-2.9" font-size="6.4">0</tspan></text>
<text x="133.7" y="237.8" font-size="9.8" stroke="#000" stroke-width="0.15">10<tspan dy="-2.9" font-size="6.4">0</tspan></text>
<text x="218.8" y="237.8" font-size="9.8" stroke="#000" stroke-width="0.15">10<tspan dy="-2.9" font-size="6.4">4</tspan></text>
<text x="110.3" y="176.3" font-size="8.9" text-anchor="middle" stroke="#000" stroke-width="0.15">CD45RO</text>
<text x="110.5" y="186.9" font-size="8.9" text-anchor="middle" stroke="#000" stroke-width="0.15">(PE)</text>
<text x="184.3" y="237.5" font-size="10.3" text-anchor="middle" stroke="#000" stroke-width="0.15">CD4</text>
<text x="184" y="249.2" font-size="10.3" text-anchor="middle" stroke="#000" stroke-width="0.15">(FITC)</text>
<path d="M70.7 246.1h4M70.7 221.9h4M70.7 197.7h4M70.7 173.5h4M70.7 149.3h4M70.7 125.1h4M70.7 100.9h4M70.7 76.7h4M70.7 52.5h4M70.7 28.3h4" stroke="#999" stroke-width="0.9" fill="none"/>
<path d="M78.8 269.5v-7M148.6 269.5v-7M219.6 269.5v-7M290.9 269.5v-7M361.7 269.5v-7M432.9 269.5v-7M502.4 269.5v-7" stroke="#888" stroke-width="1.1" fill="none"/>
<rect x="69.8" y="5.75" width="442.95" height="264.75" fill="none" stroke="#000" stroke-width="2.2"/>
<text transform="translate(58.1 276.9) scale(1.07 1.04)" font-size="16.4" text-anchor="end">0</text>
<text transform="translate(58.1 252.9) scale(1.07 1.04)" font-size="16.4" text-anchor="end">10</text>
<text transform="translate(58.1 228.9) scale(1.07 1.04)" font-size="16.4" text-anchor="end">20</text>
<text transform="translate(58.1 204.9) scale(1.07 1.04)" font-size="16.4" text-anchor="end">30</text>
<text transform="translate(58.1 180.9) scale(1.07 1.04)" font-size="16.4" text-anchor="end">40</text>
<text transform="translate(58.1 156.9) scale(1.07 1.04)" font-size="16.4" text-anchor="end">50</text>
<text transform="translate(58.1 132.9) scale(1.07 1.04)" font-size="16.4" text-anchor="end">60</text>
<text transform="translate(58.1 108.9) scale(1.07 1.04)" font-size="16.4" text-anchor="end">70</text>
<text transform="translate(58.1 84.9) scale(1.07 1.04)" font-size="16.4" text-anchor="end">80</text>
<text transform="translate(58.1 60.9) scale(1.07 1.04)" font-size="16.4" text-anchor="end">90</text>
<text transform="translate(58.1 36.9) scale(1.07 1.04)" font-size="16.4" text-anchor="end">100</text>
<text transform="translate(58.1 12.9) scale(1.07 1.04)" font-size="16.4" text-anchor="end">110</text>
<text transform="translate(82.5 293.2) scale(1.06 1.0)" font-size="18" text-anchor="middle">D3</text>
<text transform="translate(153.1 293.2) scale(1.06 1.0)" font-size="18" text-anchor="middle">D5</text>
<text transform="translate(224.3 293.2) scale(1.06 1.0)" font-size="18" text-anchor="middle">D7</text>
<text transform="translate(290.4 293.2) scale(1.06 1.0)" font-size="18" text-anchor="middle">D10</text>
<text transform="translate(361.2 293.2) scale(1.06 1.0)" font-size="18" text-anchor="middle">D13</text>
<text transform="translate(432.1 293.2) scale(1.06 1.0)" font-size="18" text-anchor="middle">D16</text>
<text transform="translate(503.3 293.2) scale(1.06 1.0)" font-size="18" text-anchor="middle">D18</text>
<text transform="translate(290.3 323.5) scale(1.01 1.0)" font-size="17.4" text-anchor="middle">Days</text>
<text transform="translate(18.1 208.9) rotate(-90) scale(1.01 1.005)" font-size="22.4" text-anchor="start">% RT Activity</text>
<text x="431" y="92.8" font-size="15.6" textLength="24.6" lengthAdjust="spacingAndGlyphs">RO</text>
<text x="426.6" y="208.2" font-size="15.6" textLength="23.4" lengthAdjust="spacingAndGlyphs">RA</text>
<polyline points="82.0,259.2 148.5,258.3 219.8,258.7" fill="none" stroke="#000" stroke-width="2.8" stroke-linejoin="round" stroke-linecap="round"/>
<polyline points="219.8,258.7 290.9,199.1 361.9,28.9 434.8,115.9 502.0,202.0" fill="none" stroke="#000" stroke-width="3.5" stroke-linejoin="round" stroke-linecap="round"/>
<polyline points="82.5,258.2 148.7,255.2 219.0,256.5" fill="none" stroke="#000" stroke-width="2.8" stroke-linejoin="round" stroke-linecap="round"/>
<polyline points="219.0,256.5 289.0,255.1 362.0,256.4" fill="none" stroke="#000" stroke-width="3.0" stroke-linejoin="round" stroke-linecap="round"/>
<polyline points="362.0,256.4 434.6,233.1 502.0,176.2" fill="none" stroke="#000" stroke-width="3.4" stroke-linejoin="round" stroke-linecap="round"/>
<circle cx="80.6" cy="259.5" r="5.7" fill="#000"/>
<circle cx="148.2" cy="260.9" r="5.7" fill="#000"/>
<circle cx="219.5" cy="260.8" r="5.7" fill="#000"/>
<circle cx="289.8" cy="199.1" r="5.7" fill="#000"/>
<circle cx="360.7" cy="28.9" r="5.7" fill="#000"/>
<circle cx="434.3" cy="115.9" r="5.7" fill="#000"/>
<circle cx="501.5" cy="201.9" r="5.7" fill="#000"/>
<rect x="76.45" y="251.75" width="11.5" height="11.5" fill="#fff" stroke="#000" stroke-width="2.3"/>
<rect x="143.05" y="246.15" width="11.5" height="11.5" fill="#fff" stroke="#000" stroke-width="2.3"/>
<rect x="213.15" y="250.85" width="11.5" height="11.5" fill="#fff" stroke="#000" stroke-width="2.3"/>
<rect x="282.65" y="249.95" width="11.5" height="11.5" fill="#fff" stroke="#000" stroke-width="2.3"/>
<rect x="356.25" y="250.85" width="11.5" height="11.5" fill="#fff" stroke="#000" stroke-width="2.3"/>
<rect x="428.85" y="227.35" width="11.5" height="11.5" fill="#fff" stroke="#000" stroke-width="2.3"/>
<rect x="496.25" y="170.45" width="11.5" height="11.5" fill="#fff" stroke="#000" stroke-width="2.3"/>
</svg></body></html>
